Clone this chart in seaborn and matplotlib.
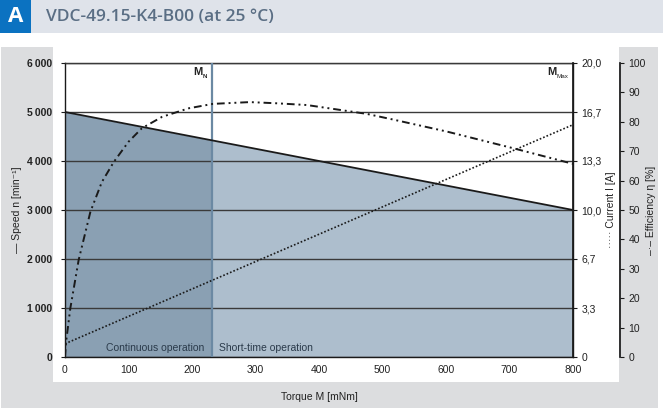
import numpy as np
import pandas as pd
import matplotlib
matplotlib.use("Agg")
import matplotlib.pyplot as plt
from matplotlib.patches import Rectangle
import seaborn as sns

sns.set_theme(style="white")
FONT = ['Liberation Sans Narrow', 'Liberation Sans', 'DejaVu Sans']
plt.rcParams['font.family'] = FONT

# ---------------- data ----------------
torque_speed = [0, 800]
speed = [5000, 3000]

torque_current = [0, 800]
current = [0.9, 15.8]

torque_eff = [0, 1.6, 8.4, 21.5, 40, 58, 77, 100, 121, 153, 195, 233, 291, 333,
              381, 422, 475, 516, 601, 706, 800]
efficiency = [0, 5, 16.6, 33, 49.4, 59.5, 66.4, 73.2, 77.8, 81.7, 84.6, 86.1, 86.7, 86.3,
              85.7, 84.4, 82.7, 80.8, 76.7, 71, 65.7]

M_N = 231
M_MAX = 800

x_ticks = [0, 100, 200, 300, 400, 500, 600, 700, 800]
speed_ticks = [0, 1000, 2000, 3000, 4000, 5000, 6000]
speed_labels = ["0", "1\u2009000", "2\u2009000", "3\u2009000", "4\u2009000", "5\u2009000", "6\u2009000"]
current_ticks = [0, 10/3, 20/3, 10, 40/3, 50/3, 20]
current_labels = ["0", "3,3", "6,7", "10,0", "13,3", "16,7", "20,0"]
eff_ticks = [0, 10, 20, 30, 40, 50, 60, 70, 80, 90, 100]

title = "VDC-49.15-K4-B00 (at 25 °C)"

# ---------------- figure ----------------
W, H = 663, 408
fig = plt.figure(figsize=(W / 100, H / 100), dpi=100)
fig.patch.set_facecolor('white')

def px_rect(x0, y0, x1, y1, color, z):
    fig.patches.append(Rectangle((x0 / W, 1 - y1 / H), (x1 - x0) / W, (y1 - y0) / H,
                                 transform=fig.transFigure, facecolor=color,
                                 edgecolor='none', zorder=z))

px_rect(0, 0, 663, 33, '#dfe3ea', -10)
px_rect(0, 0, 31, 33, '#0b72c1', -9)
px_rect(1, 47, 658, 408, '#dcdddf', -10)
px_rect(53, 47, 619, 382, 'white', -9)

fig.text(15.5 / W, 1 - 17 / H, "A", color='white', fontsize=16, fontweight='bold',
         ha='center', va='center', family=['Open Sans', 'DejaVu Sans'])
fig.text(46 / W, 1 - 17 / H, title, color='#5a6e84', fontsize=12.5, fontweight='semibold',
         ha='left', va='center', family=['Open Sans', 'DejaVu Sans'])

ax = fig.add_axes([65 / W, 1 - 357 / H, (573 - 65) / W, (357 - 63) / H])
ax.set_facecolor('none')

# fill regions below speed line
xs = np.array(torque_speed, dtype=float)
ys = np.array(speed, dtype=float)
x_dark = np.array([0, M_N], dtype=float)
x_light = np.array([M_N, M_MAX], dtype=float)
ax.fill_between(x_dark, 0, np.interp(x_dark, xs, ys), color='#8aa0b3', lw=0, zorder=1)
ax.fill_between(x_light, 0, np.interp(x_light, xs, ys), color='#adbecd', lw=0, zorder=1)

df_speed = pd.DataFrame({"M": torque_speed, "n": speed})
sns.lineplot(data=df_speed, x="M", y="n", ax=ax, color='#1a1a1a', lw=1.3, zorder=4)

ax.axvline(M_N, color='#6b89a3', lw=1.6, zorder=3)

ax.set_xlim(0, 800)
ax.set_ylim(0, 6000)
ax.set_xticks(x_ticks)
ax.set_xticklabels([str(t) for t in x_ticks])
ax.set_yticks(speed_ticks)
ax.set_yticklabels(speed_labels, fontweight='bold')
ax.set_axisbelow(False)
ax.yaxis.grid(True, color='#3a3a3a', lw=1.0, zorder=2.5)
ax.xaxis.grid(False)
for s in ['left', 'bottom', 'top', 'right']:
    ax.spines[s].set_visible(True)
    ax.spines[s].set_color('#1a1a1a')
    ax.spines[s].set_linewidth(1.0)
ax.tick_params(axis='both', direction='out', length=3, width=0.8, color='#1a1a1a',
               labelsize=7.5, labelcolor='#222222', pad=3)
ax.tick_params(axis='y', pad=6)
ax.set_ylabel("\u2014 Speed n [min\u207b\u00b9]", fontsize=7.5, color='#222222', labelpad=4)

# M_N and M_Max markers (main letter + small subscript)
ax.annotate("M", xy=(M_N, 6000), xytext=(-6.5, -3), textcoords='offset points',
            ha='right', va='top', fontsize=8, fontweight='bold', color='#222222')
ax.annotate("N", xy=(M_N, 6000), xytext=(-3.5, -8), textcoords='offset points',
            ha='right', va='top', fontsize=4.5, fontweight='bold', color='#222222')
ax.annotate("M", xy=(M_MAX, 6000), xytext=(-12, -3), textcoords='offset points',
            ha='right', va='top', fontsize=8, fontweight='bold', color='#222222')
ax.annotate("Max", xy=(M_MAX, 6000), xytext=(-3, -8), textcoords='offset points',
            ha='right', va='top', fontsize=4.5, color='#222222')
ax.annotate("Continuous operation", xy=(M_N, 0), xytext=(-5, 3), textcoords='offset points',
            ha='right', va='bottom', fontsize=7.5, color='#2a3a4a')
ax.annotate("Short-time operation", xy=(M_N, 0), xytext=(5, 3), textcoords='offset points',
            ha='left', va='bottom', fontsize=7.5, color='#2a3a4a')

# current axis
ax2 = ax.twinx()
df_cur = pd.DataFrame({"M": torque_current, "I": current})
sns.lineplot(data=df_cur, x="M", y="I", ax=ax2, color='#1a1a1a', lw=1.2,
             linestyle=(0, (1, 1.2)))
ax2.set_ylim(0, 20)
ax2.set_yticks(current_ticks)
ax2.set_yticklabels(current_labels)
ax2.grid(False)
for s in ['left', 'bottom', 'top']:
    ax2.spines[s].set_visible(False)
ax2.spines['right'].set_color('#1a1a1a')
ax2.tick_params(axis='y', direction='out', length=3, width=0.8, color='#1a1a1a',
                labelsize=7.5, labelcolor='#222222', pad=3)
ax2.set_ylabel("\u00b7\u00b7\u00b7\u00b7\u00b7 Current I [A]", fontsize=7.5, color='#222222',
               labelpad=3)
ax2.set_xlabel("")

# efficiency axis
ax3 = ax.twinx()
df_eff = pd.DataFrame({"M": torque_eff, "eta": efficiency})
sns.lineplot(data=df_eff, x="M", y="eta", ax=ax3, color='#1a1a1a', lw=1.4,
             linestyle=(0, (4, 2, 1, 2, 1, 2)))
ax3.set_ylim(0, 100)
ax3.set_yticks(eff_ticks)
ax3.grid(False)
ax3.spines['right'].set_position(('axes', (620 - 65) / (573 - 65)))
for s in ['left', 'bottom', 'top']:
    ax3.spines[s].set_visible(False)
ax3.spines['right'].set_color('#1a1a1a')
ax3.tick_params(axis='y', direction='out', length=3, width=0.8, color='#1a1a1a',
                labelsize=7.5, labelcolor='#222222', pad=3)
ax3.set_ylabel("\u2013\u00b7\u2013 Efficiency \u03b7 [%]", fontsize=7.5, color='#222222',
               labelpad=0)
ax3.set_xlabel("")

ax.set_xlabel("Torque M [mNm]", fontsize=7.5, color='#222222', labelpad=12)

fig.savefig("out.png", dpi=100, facecolor='white')
